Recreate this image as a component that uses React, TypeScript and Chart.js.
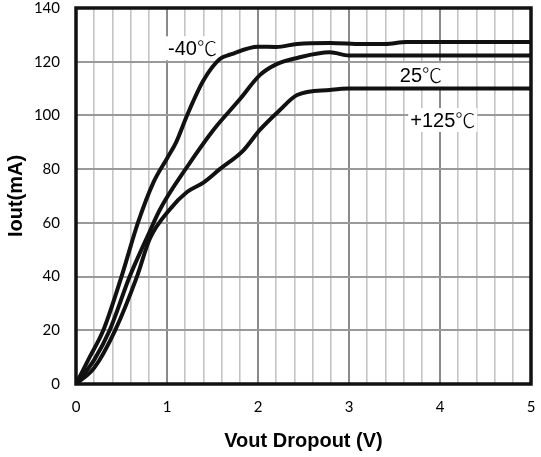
import React, { useEffect, useRef } from "react";
import { Chart, registerables } from "chart.js";

Chart.register(...registerables);

const seriesNames = ["-40", "25", "+125"];
const unitText = "℃";

const vM40 = [0, 0.15, 0.3, 0.5, 0.68, 0.85, 1.0, 1.1, 1.22, 1.4, 1.58, 1.7, 2.0, 2.2, 2.43, 2.79, 3.15, 3.4, 3.63, 5];
const iM40 = [0, 10, 20, 40, 60, 75, 84, 90, 100, 113, 121, 122.7, 125.6, 125.5, 126.6, 127, 126.6, 126.6, 127.3, 127.3];

const v25 = [0, 0.2, 0.37, 0.59, 0.8, 0.92, 1.22, 1.51, 1.8, 2.02, 2.2, 2.43, 2.79, 3.0, 5];
const i25 = [0, 9, 20, 40, 56, 64.8, 80.8, 94.6, 106, 115, 119, 121.4, 123.5, 122.3, 122.3];

const v125 = [0, 0.2, 0.43, 0.67, 0.81, 1.03, 1.22, 1.4, 1.58, 1.84, 2.02, 2.24, 2.43, 2.79, 3.0, 5];
const i125 = [0, 6, 20, 40, 54, 65, 71.5, 75, 80, 87, 94.6, 102, 107.6, 109.5, 110, 110];

const labelX = [1.28, 3.79, 4.03];
const labelY = [125, 115, 98.3];

const xTitle = "Vout Dropout (V)";
const yTitle = "Iout(mA)";

const toPts = (xs: number[], ys: number[]) => xs.map((x, i) => ({ x, y: ys[i] }));

const isInt = (v: number) => Math.abs(v - Math.round(v)) < 1e-6;

export default function App() {
  const ref = useRef<HTMLCanvasElement | null>(null);
  useEffect(() => {
    document.body.style.margin = "0";
    const canvas = ref.current!;
    const numFont = "20px 'Liberation Sans', Arial, sans-serif";
    const unitFont = "300 20px 'Noto Sans CJK SC', sans-serif";
    const labelPlugin = {
      id: "labels",
      beforeDatasetsDraw(chart: any) {
        const { ctx, scales } = chart;
        ctx.save();
        ctx.textBaseline = "middle";
        ctx.textAlign = "left";
        seriesNames.forEach((name, i) => {
          const px = scales.x.getPixelForValue(labelX[i]);
          const py = scales.y.getPixelForValue(labelY[i]);
          ctx.font = numFont;
          const w1 = ctx.measureText(name).width;
          ctx.font = unitFont;
          const w2 = ctx.measureText(unitText).width;
          const w = w1 + w2;
          const x0 = px - w / 2;
          ctx.fillStyle = "#fff";
          ctx.fillRect(x0 - 2, py - 12, w + 4, 24);
          ctx.fillStyle = "#000";
          ctx.font = numFont;
          ctx.fillText(name, x0, py + 1);
          ctx.font = unitFont;
          ctx.fillText(unitText, x0 + w1, py);
        });
        ctx.restore();
      },
      afterDraw(chart: any) {
        const { ctx, chartArea } = chart;
        ctx.save();
        ctx.strokeStyle = "#111";
        ctx.lineWidth = 3.5;
        ctx.strokeRect(chartArea.left, chartArea.top, chartArea.right - chartArea.left, chartArea.bottom - chartArea.top);
        ctx.restore();
      },
    };
    const ds = [
      toPts(vM40, iM40),
      toPts(v25, i25),
      toPts(v125, i125),
    ].map((d, i) => ({
      label: seriesNames[i] + unitText,
      data: d,
      borderColor: "#111",
      borderWidth: 4,
      pointRadius: 0,
      fill: false,
      cubicInterpolationMode: "monotone" as const,
    }));
    const chart = new Chart(canvas, {
      type: "line",
      data: { datasets: ds },
      plugins: [labelPlugin],
      options: {
        animation: false,
        responsive: false,
        layout: { padding: { top: 8, right: 10, left: 0, bottom: 0 } },
        plugins: { legend: { display: false }, tooltip: { enabled: false } },
        scales: {
          x: {
            type: "linear",
            min: 0,
            max: 5,
            afterFit: (s: any) => { s.height = 73; s.paddingLeft = 0; s.paddingRight = 0; },
            ticks: {
              stepSize: 0.2,
              autoSkip: false,
              maxRotation: 0,
              color: "#000",
              padding: 14,
              font: { family: "Lato, 'Open Sans', sans-serif", size: 15 },
              callback: (v: any) => (isInt(Number(v)) ? String(Math.round(Number(v))) : ""),
            },
            grid: {
              color: (c: any) => (c.tick && isInt(c.tick.value) ? "#8a8a8a" : "#c4c4c4"),
              lineWidth: (c: any) => (c.tick && isInt(c.tick.value) ? 2 : 1.6),
              drawTicks: false,
            },
            border: { display: false },
            title: {
              display: true,
              text: xTitle,
              color: "#000",
              font: { family: "'Liberation Sans', Arial, sans-serif", size: 20, weight: "bold" },
              padding: { top: 2 },
            },
          },
          y: {
            type: "linear",
            min: 0,
            max: 140,
            afterFit: (s: any) => { s.width = 76; s.paddingTop = 0; s.paddingBottom = 0; },
            ticks: {
              stepSize: 20,
              color: "#000",
              padding: 16,
              font: { family: "Lato, 'Open Sans', sans-serif", size: 15 },
            },
            grid: { color: "#999", lineWidth: 2, drawTicks: false },
            border: { display: false },
            title: {
              display: true,
              text: yTitle,
              color: "#000",
              font: { family: "'Liberation Sans', Arial, sans-serif", size: 20, weight: "bold" },
              padding: { bottom: 0 },
            },
          },
        },
      },
    });
    return () => chart.destroy();
  }, []);
  return (
    <div style={{ width: 541, height: 457 }}>
      <canvas ref={ref} width={541} height={457} style={{ display: "block" }} />
    </div>
  );
}
